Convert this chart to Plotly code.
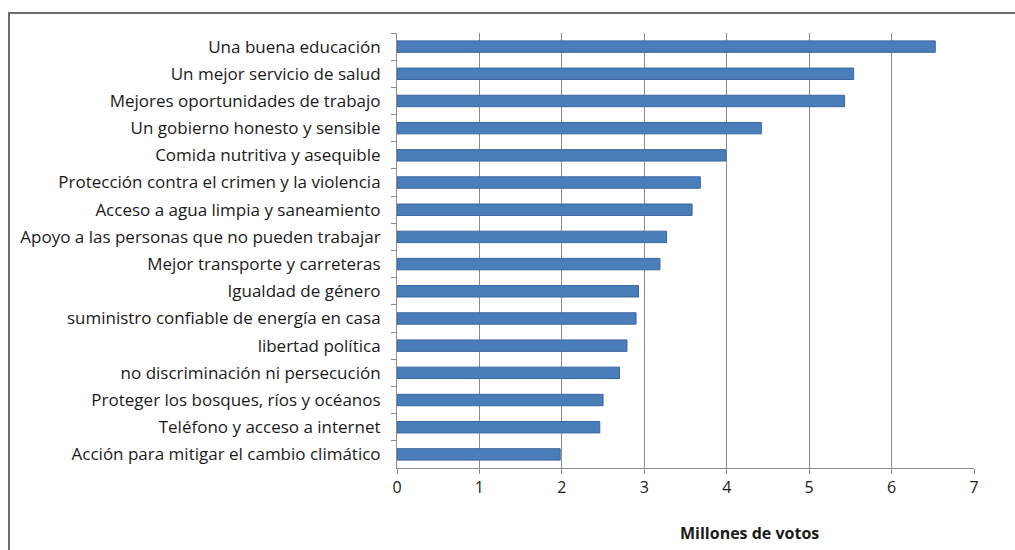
import plotly.graph_objects as go

categories = [
    "Una buena educación",
    "Un mejor servicio de salud",
    "Mejores oportunidades de trabajo",
    "Un gobierno honesto y sensible",
    "Comida nutritiva y asequible",
    "Protección contra el crimen y la violencia",
    "Acceso a agua limpia y saneamiento",
    "Apoyo a las personas que no pueden trabajar",
    "Mejor transporte y carreteras",
    "Igualdad de género",
    "suministro confiable de energía en casa",
    "libertad política",
    "no discriminación ni persecución",
    "Proteger los bosques, ríos y océanos",
    "Teléfono y acceso a internet",
    "Acción para mitigar el cambio climático",
]
votes_millions = [6.53, 5.54, 5.43, 4.42, 3.99, 3.68, 3.58, 3.27, 3.19,
                  2.93, 2.90, 2.79, 2.70, 2.50, 2.46, 1.98]
x_ticks = [0, 1, 2, 3, 4, 5, 6, 7]
x_title = "Millones de votos"

W, H = 1015, 550
L, R, T, B = 397, 41, 33, 82
pw, ph = W - L - R, H - T - B

def px_to_paper_x(px):
    return (px - L) / pw

def px_to_paper_y(py):
    return (H - B - py) / ph

fig = go.Figure(go.Bar(
    x=votes_millions,
    y=categories,
    orientation="h",
    width=0.42,
    marker=dict(color="#4a7ebb", line=dict(color="#3a66a0", width=1)),
))

font_family = "'Open Sans', Lato, sans-serif"

fig.update_layout(
    width=W, height=H,
    margin=dict(l=L, r=R, t=T, b=B),
    paper_bgcolor="white",
    plot_bgcolor="white",
    showlegend=False,
    font=dict(family=font_family, size=15, color="#1a1a1a"),
    xaxis=dict(
        range=[0, 7],
        tickvals=x_ticks,
        ticktext=[str(v) for v in x_ticks],
        showgrid=True, gridcolor="#8c8c8c", gridwidth=1,
        showline=True, linecolor="#8c8c8c", linewidth=1,
        ticks="outside", ticklen=5, tickcolor="#8c8c8c",
        zeroline=False,
        tickfont=dict(size=16, color="#1a1a1a"),
    ),
    yaxis=dict(
        type="category",
        autorange="reversed",
        showgrid=False,
        showline=True, linecolor="#8c8c8c", linewidth=1,
        ticks="outside", ticklen=5, tickcolor="#8c8c8c",
        tickson="boundaries",
        ticklabelstandoff=12,
        tickfont=dict(size=17, color="#1a1a1a"),
    ),
    shapes=[dict(
        type="rect", xref="paper", yref="paper",
        x0=px_to_paper_x(9), x1=px_to_paper_x(1030),
        y0=px_to_paper_y(570), y1=px_to_paper_y(13),
        line=dict(color="#6b6b6b", width=2),
        fillcolor="rgba(0,0,0,0)", layer="below",
    )],
    annotations=[dict(
        text="<b>" + x_title + "</b>",
        xref="paper", yref="paper",
        x=px_to_paper_x(749), y=px_to_paper_y(533),
        showarrow=False, xanchor="center", yanchor="middle",
        font=dict(size=16, color="#1a1a1a"),
    )],
)

fig.write_html("out.html")
